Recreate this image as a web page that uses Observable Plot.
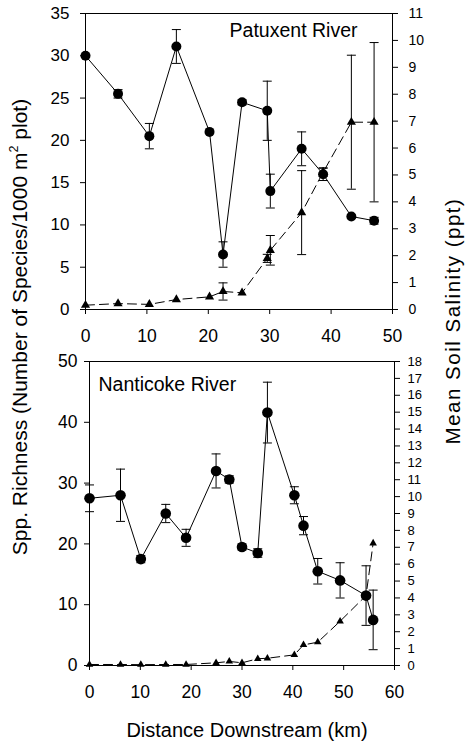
<!DOCTYPE html>
<html>
<head>
<meta charset="utf-8">
<script src="https://cdn.jsdelivr.net/npm/d3@7"></script>
<script src="https://cdn.jsdelivr.net/npm/@observablehq/plot@0.6"></script>
<style>
  html, body { margin: 0; padding: 0; background: white; }
  #wrap { position: relative; width: 466px; height: 744px; overflow: hidden; font-family: "Liberation Sans", Arial, sans-serif; color: black; }
  #wrap svg { position: absolute; left: 0; }
  .title { position: absolute; white-space: nowrap; line-height: 1; }
  .rot { transform: translate(-50%, -50%) rotate(-90deg); }
  .hor { transform: translate(-50%, -50%); }
  sup { font-size: 0.6em; vertical-align: 0.7em; line-height: 0; }
</style>
</head>
<body>
<div id="wrap"></div>
<script>
// ---------- Data ----------
// Patuxent River (top panel)
const patDist     = [0, 5.3, 10.4, 14.8, 20.2, 22.4, 25.5, 29.6, 30.1, 35.2, 38.7, 43.3, 47.0];
const patRich     = [30.0, 25.5, 20.5, 31.1, 21.0, 6.5, 24.5, 23.5, 14.0, 19.0, 16.0, 11.0, 10.5];
const patRichErr  = [0, 0.5, 1.5, 2.0, 0, 1.5, 0.3, 3.5, 2.0, 2.0, 0.75, 0, 0.4];
const patSal      = [0.16, 0.22, 0.19, 0.37, 0.47, 0.67, 0.62, 1.9, 2.2, 3.6, 5.1, 6.96, 6.96];
const patSalErr   = [0, 0, 0, 0, 0, 0.32, 0, 0.15, 0.55, 1.56, 0.15, 2.49, 2.96];

// Nanticoke River (bottom panel)
const nanDist     = [0, 6.1, 10.1, 15.0, 19.0, 24.9, 27.5, 30.0, 33.1, 35.0, 40.3, 42.1, 44.9, 49.3, 54.4, 55.8];
const nanRich     = [27.5, 28.0, 17.5, 25.0, 21.0, 32.0, 30.6, 19.5, 18.5, 41.6, 28.0, 23.0, 15.5, 14.0, 11.5, 7.5];
const nanRichErr  = [2.2, 4.3, 0.6, 1.5, 1.4, 2.8, 0.6, 0.5, 0.7, 5.0, 1.4, 1.5, 2.1, 2.9, 4.9, 4.9];
const nanSal      = [0.06, 0.06, 0.05, 0.06, 0.06, 0.16, 0.24, 0.16, 0.40, 0.43, 0.63, 1.22, 1.38, 2.62, 4.14, 7.24];
const nanSalErr   = [0, 0, 0, 0, 0, 0, 0, 0, 0, 0, 0, 0, 0, 0, 0, 0];

// Tick labels
const patXTicks = [0, 10, 20, 30, 40, 50];
const patYTicks = [0, 5, 10, 15, 20, 25, 30, 35];
const patSalTicks = [0, 1, 2, 3, 4, 5, 6, 7, 8, 9, 10, 11];
const nanXTicks = [0, 10, 20, 30, 40, 50, 60];
const nanYTicks = [0, 10, 20, 30, 40, 50];
const nanSalTicks = [0, 1, 2, 3, 4, 5, 6, 7, 8, 9, 10, 11, 12, 13, 14, 15, 16, 17, 18];

const riverNames = ["Patuxent River", "Nanticoke River"];
const xTitle = "Distance Downstream (km)";
const yTitleHTML = "Spp. Richness (Number of Species/1000 m<sup>2</sup> plot)";
const y2Title = "Mean Soil Salinity (ppt)";

(function () {
// ---------- Helpers ----------
const FONT = '"Liberation Sans", Arial, sans-serif';
const capSymbol = { draw(ctx) { ctx.moveTo(-4.5, 0); ctx.lineTo(4.5, 0); } };

function table(dist, rich, re, sal, se) {
  return dist.map((d, i) => ({ d, rich: rich[i], re: re[i], sal: sal[i], se: se[i] }));
}

function panel(opts) {
  const { rows, xDomain, yDomain, salMax, xTicks, yTicks, salTicks, name, o } = opts;
  const k = yDomain[1] / salMax;
  const richE = rows.filter(r => r.re > 0);
  const salE = rows.filter(r => r.se > 0);
  return Plot.plot({
    width: 466, height: o.height,
    marginLeft: o.ml, marginRight: o.mr, marginTop: o.mt, marginBottom: o.mb,
    style: { fontFamily: FONT, fontSize: "17px", color: "black", background: "white", overflow: "visible" },
    x: { domain: xDomain },
    y: { domain: yDomain },
    marks: [
      Plot.frame({ stroke: "black", strokeWidth: 1 }),
      Plot.axisX(xTicks, { tickSize: 5, tickPadding: o.xPad, fontSize: o.xFont, label: null, tickFormat: d => String(d) }),
      Plot.axisY(yTicks, { anchor: "left", tickSize: 5, tickPadding: o.lPad, fontSize: o.lFont, label: null, tickFormat: d => String(d) }),
      Plot.axisY(salTicks.map(t => t * k), { anchor: "right", tickSize: 5, tickPadding: o.rPad, fontSize: o.rFont, label: null, tickFormat: d => String(Math.round(d / k)) }),
      // salinity (triangles, dashed)
      Plot.line(rows, { x: "d", y: r => r.sal * k, stroke: "black", strokeWidth: 1, strokeDasharray: "9,5" }),
      Plot.ruleX(salE, { x: "d", y1: r => (r.sal - r.se) * k, y2: r => (r.sal + r.se) * k, stroke: "black", strokeWidth: 1 }),
      Plot.dot(salE, { x: "d", y: r => (r.sal - r.se) * k, symbol: capSymbol, stroke: "black", fill: "none", strokeWidth: 1 }),
      Plot.dot(salE, { x: "d", y: r => (r.sal + r.se) * k, symbol: capSymbol, stroke: "black", fill: "none", strokeWidth: 1 }),
      Plot.dot(rows, { x: "d", y: r => r.sal * k, symbol: "triangle", r: o.triR, fill: "black", stroke: "none" }),
      // richness (circles, solid)
      Plot.line(rows, { x: "d", y: "rich", stroke: "black", strokeWidth: 1 }),
      Plot.ruleX(richE, { x: "d", y1: r => r.rich - r.re, y2: r => r.rich + r.re, stroke: "black", strokeWidth: 1 }),
      Plot.dot(richE, { x: "d", y: r => r.rich - r.re, symbol: capSymbol, stroke: "black", fill: "none", strokeWidth: 1 }),
      Plot.dot(richE, { x: "d", y: r => r.rich + r.re, symbol: capSymbol, stroke: "black", fill: "none", strokeWidth: 1 }),
      Plot.dot(rows, { x: "d", y: "rich", r: o.cirR, fill: "black", stroke: "none" }),
      Plot.text([name], { frameAnchor: o.nameAnchor, textAnchor: o.nameText, lineAnchor: "top", dx: o.ndx, dy: o.ndy, fontSize: 19.5, fill: "black" })
    ]
  });
}

const wrap = document.getElementById("wrap");

const topPlot = panel({
  rows: table(patDist, patRich, patRichErr, patSal, patSalErr),
  xDomain: [0, 50], yDomain: [0, 35], salMax: 11,
  xTicks: patXTicks, yTicks: patYTicks, salTicks: patSalTicks, name: riverNames[0],
  o: { height: 345, ml: 85, mr: 74, mt: 13, mb: 36, xPad: 15, lPad: 11, rPad: 11, xFont: 17.5, lFont: 17, rFont: 14,
       triR: 3.4, cirR: 5, nameAnchor: "top-right", nameText: "end", ndx: -35, ndy: 10 }
});
topPlot.style.top = "0px";
wrap.appendChild(topPlot);

const botPlot = panel({
  rows: table(nanDist, nanRich, nanRichErr, nanSal, nanSalErr),
  xDomain: [0, 60], yDomain: [0, 50], salMax: 18,
  xTicks: nanXTicks, yTicks: nanYTicks, salTicks: nanSalTicks, name: riverNames[1],
  o: { height: 399, ml: 89, mr: 72, mt: 16, mb: 79, xPad: 15, lPad: 7, rPad: 8, xFont: 17.5, lFont: 17.5, rFont: 13,
       triR: 2.8, cirR: 5.3, nameAnchor: "top-left", nameText: "start", ndx: 9, ndy: 16 }
});
botPlot.style.top = "345px";
wrap.appendChild(botPlot);

// Titles
function addTitle(html, cx, cy, cls, size, spacing) {
  const el = document.createElement("div");
  el.className = "title " + cls;
  el.innerHTML = html;
  el.style.left = cx + "px";
  el.style.top = cy + "px";
  el.style.fontSize = size + "px";
  if (spacing) el.style.letterSpacing = spacing + "px";
  wrap.appendChild(el);
}
addTitle(yTitleHTML, 19, 327, "rot", 21);
addTitle(y2Title, 453, 321, "rot", 20.5, 1.5);
addTitle(xTitle, 247, 730, "hor", 20);
})();
</script>
</body>
</html>
